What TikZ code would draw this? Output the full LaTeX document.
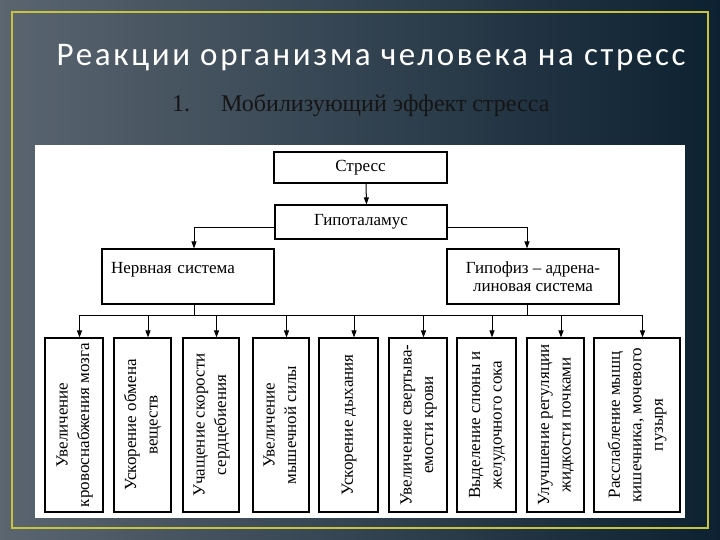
\documentclass[tikz,border=0pt]{standalone}
\usepackage{fontspec}
\setmainfont{Liberation Serif}
\newfontfamily\titlefont[LetterSpace=8]{Carlito}
\usetikzlibrary{arrows.meta,shadows}
\definecolor{bgL}{HTML}{5A6570}
\definecolor{bgM}{HTML}{2B3846}
\definecolor{bgR}{HTML}{0C2131}
\definecolor{frameY}{HTML}{C8C23C}
\definecolor{subC}{HTML}{151515}
\newcommand\vtxt[1]{\rotatebox{90}{\fontsize{17}{21.5}\selectfont\begin{tabular}{@{}c@{}}#1\end{tabular}}}
\newcommand\topfont{\fontsize{17}{17.5}\selectfont}
\tikzset{
  box/.style={draw=black, line width=1.1pt, fill=white, inner sep=0pt,
    drop shadow={shadow xshift=1pt, shadow yshift=-1pt, opacity=1, fill=black}},
  arr/.style={-{Triangle[length=7pt,width=5pt]}, line width=1pt},
  ln/.style={line width=1pt},
}
\begin{document}
\begin{tikzpicture}[x=1pt,y=-1pt]
\useasboundingbox (0,0) rectangle (720,540);
\shade[left color=bgL, middle color=bgM, right color=bgR] (0,0) rectangle (720,540);
\draw[frameY, line width=2pt] (12,12) rectangle (708,528);
\fill[white] (35,145) rectangle (685,518);

\node[text=white, font=\titlefont\fontsize{33}{39}\selectfont, anchor=base, inner sep=0pt] (title) at (371,66) {Реакции организма человека на стресс};
\node[text=subC, font=\fontsize{24}{28}\selectfont, anchor=base west, inner sep=0pt] (num) at (172,112) {1.};
\node[text=subC, font=\fontsize{24}{28}\selectfont, anchor=base west, inner sep=0pt] (sub) at (221,112) {Мобилизующий эффект стресса};

\node[box, minimum width=173pt, minimum height=31pt, font=\topfont] (stress) at (360.5,167.5) {Стресс};
\node[box, minimum width=172pt, minimum height=34pt, font=\topfont] (hypo) at (361,222) {Гипоталамус};
\node[box, minimum width=172pt, minimum height=55pt, font=\topfont, align=left, text width=154pt] (nerv) at (188,276.5) {Нервная система\\\mbox{}};
\node[box, minimum width=172pt, minimum height=55pt, font=\topfont, align=center] (hypoph) at (533,276.5) {Гипофиз – адрена-\\линовая система};

\node[box, minimum width=58pt, minimum height=174pt] (b1) at (74,425) {\vtxt{Увеличение\\кровоснабжения мозга}};
\node[box, minimum width=57pt, minimum height=174pt] (b2) at (142.5,425) {\vtxt{Ускорение обмена\\веществ}};
\node[box, minimum width=56pt, minimum height=174pt] (b3) at (211,425) {\vtxt{Учащение скорости\\сердцебиения}};
\node[box, minimum width=56pt, minimum height=174pt] (b4) at (281,425) {\vtxt{Увеличение\\мышечной силы}};
\node[box, minimum width=59pt, minimum height=174pt] (b5) at (348.5,425) {\vtxt{Ускорение дыхания}};
\node[box, minimum width=58pt, minimum height=174pt] (b6) at (418,425) {\vtxt{Увеличение свертыва-\\емости крови}};
\node[box, minimum width=59pt, minimum height=174pt] (b7) at (486.5,425) {\vtxt{Выделение слюны и\\желудочного сока}};
\node[box, minimum width=57pt, minimum height=174pt] (b8) at (555.5,425) {\vtxt{Улучшение регуляции\\жидкости почками}};
\node[box, minimum width=86pt, minimum height=174pt] (b9) at (637,425) {\vtxt{Расслабление мышц\\кишечника, мочевого\\пузыря}};

\draw[arr] ([xshift=5.5pt]stress.south) -- ([xshift=5.5pt]hypo.north);
\draw[arr] ([yshift=-6pt]hypo.west) -| ([xshift=6pt]nerv.north);
\draw[arr] ([yshift=-6pt]hypo.east) -| ([xshift=-6pt]hypoph.north);

\coordinate (busy) at (0,315);
\coordinate (bl) at ([xshift=5.5pt]b1.north);
\coordinate (br) at ([xshift=5.5pt]b9.north);
\draw[ln] (bl |- busy) -- (br |- busy);
\coordinate (nb) at ([xshift=6pt]nerv.south);
\coordinate (hb) at ([xshift=-6pt]hypoph.south);
\draw[ln] (nb) -- (nb |- busy);
\draw[ln] (hb) -- (hb |- busy);
\foreach \b in {b1,b2,b3,b4,b5,b6,b7,b8,b9}{
  \coordinate (t) at ([xshift=5.5pt]\b.north);
  \draw[arr] (t |- busy) -- (t);
}
\end{tikzpicture}
\end{document}
